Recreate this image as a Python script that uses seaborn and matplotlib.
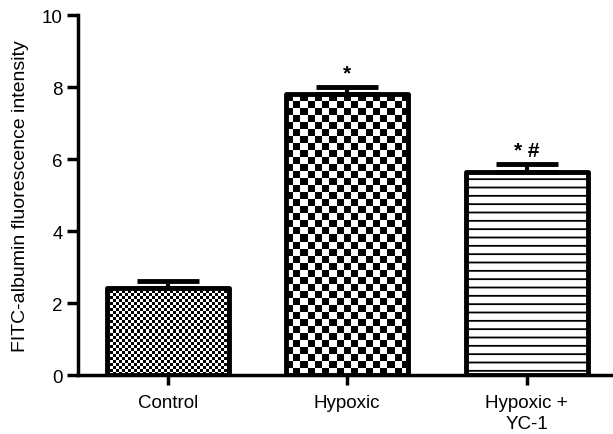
import numpy as np
import pandas as pd
import seaborn as sns
import matplotlib.pyplot as plt

groups = ['Control', 'Hypoxic', 'Hypoxic +\nYC-1']
means = [2.42, 7.8, 5.64]
sems = [0.2, 0.2, 0.22]
marks = ['', '*', '* #']
checker_px = [3, 7, None]   # square size of checker fill, None = striped

sns.set_style('white')
plt.rcParams['font.family'] = ['Liberation Sans', 'DejaVu Sans']
plt.rcParams['hatch.linewidth'] = 1.3
plt.rcParams['text.color'] = 'black'
plt.rcParams['axes.edgecolor'] = 'black'
plt.rcParams['xtick.color'] = 'black'
plt.rcParams['ytick.color'] = 'black'
plt.rcParams['axes.labelcolor'] = 'black'

df = pd.DataFrame({'group': groups, 'value': means})

fig = plt.figure(figsize=(6.13, 4.35), dpi=100)
ax = fig.add_axes([0.127, 0.1356, 0.873, 0.8276])

sns.barplot(data=df, x='group', y='value', errorbar=None, color='white',
            edgecolor='black', linewidth=3.5, width=0.68, ax=ax, zorder=2)

ax.set_xlim(-0.5, 2.48)
ax.set_ylim(0, 10)
fig.canvas.draw()

for bar, cp in zip(ax.patches, checker_px):
    bar.set_joinstyle('round')
    if cp is None:
        bar.set_hatch('--')
        continue
    bar.set_facecolor('none')
    bb = bar.get_bbox()
    disp = ax.transData.transform([[bb.x0, bb.y0], [bb.x1, bb.y1]])
    nx = int(round((disp[1, 0] - disp[0, 0]) / cp))
    ny = int(round((disp[1, 1] - disp[0, 1]) / cp))
    img = (np.indices((ny, nx)).sum(axis=0) % 2).astype(float)
    im = ax.imshow(img, cmap='gray', extent=[bb.x0, bb.x1, bb.y0, bb.y1],
                   interpolation='nearest', aspect='auto', zorder=1)
    im.set_clip_path(bar)

ax.errorbar(range(len(means)), means, yerr=[[0] * len(means), sems], fmt='none',
            ecolor='black', elinewidth=3, capsize=22, capthick=3.5, zorder=3)

for i, (m, s, t) in enumerate(zip(means, sems, marks)):
    if t:
        ax.text(i, m + s + 0.12, t, ha='center', va='bottom', fontsize=15,
                fontweight='bold')

sns.despine(ax=ax)
ax.spines['left'].set_linewidth(2.5)
ax.spines['bottom'].set_linewidth(2.5)
ax.set_yticks([0, 2, 4, 6, 8, 10])
ax.tick_params(axis='y', left=True, length=8, width=2.5, labelsize=13.5, pad=3)
ax.tick_params(axis='x', bottom=True, length=7, width=2.5, labelsize=13.5, pad=7)
for lab in ax.get_xticklabels():
    lab.set_linespacing(1.25)
ax.set_xlabel('')
ax.set_ylabel('FITC-albumin fluorescence intensity', fontsize=14, labelpad=9)

fig.savefig('out.png', dpi=100)
